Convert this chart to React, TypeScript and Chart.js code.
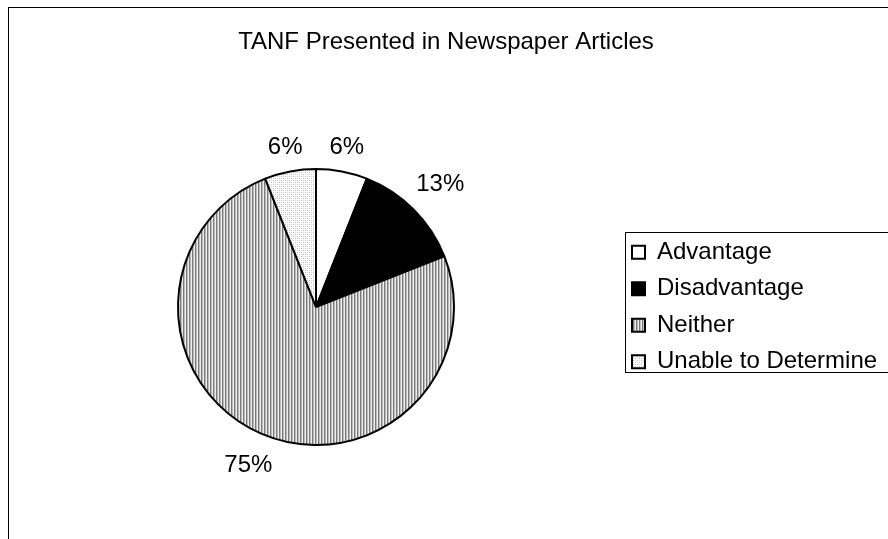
import React, { useEffect, useRef } from 'react';
import { Chart, registerables } from 'chart.js';

Chart.register(...registerables);

const categories = ['Advantage', 'Disadvantage', 'Neither', 'Unable to Determine'];
const percentages = [6, 13, 75, 6];
const titleText = 'TANF Presented in Newspaper Articles';
const FONT = '"Liberation Sans", Arial, sans-serif';

function makePattern(ctx: CanvasRenderingContext2D, size: number, draw: (c: CanvasRenderingContext2D) => void) {
  const tile = document.createElement('canvas');
  tile.width = size;
  tile.height = size;
  const tc = tile.getContext('2d')!;
  draw(tc);
  return ctx.createPattern(tile, 'repeat')!;
}

const percentLabels = {
  id: 'percentLabels',
  afterDatasetsDraw(chart: any) {
    const ctx = chart.ctx as CanvasRenderingContext2D;
    const meta = chart.getDatasetMeta(0);
    const values = chart.data.datasets[0].data as number[];
    const size = 24;
    ctx.save();
    ctx.font = `${size}px ${FONT}`;
    ctx.fillStyle = '#000';
    ctx.textAlign = 'center';
    ctx.textBaseline = 'middle';
    meta.data.forEach((arc: any, i: number) => {
      const p = arc.getProps(['x', 'y', 'startAngle', 'endAngle', 'outerRadius'], true);
      const mid = (p.startAngle + p.endAngle) / 2;
      const dx = Math.cos(mid);
      const dy = Math.sin(mid);
      const text = `${values[i]}%`;
      const w = ctx.measureText(text).width;
      const h = size * 0.8;
      const dist = p.outerRadius + 14 + Math.abs(dx) * w / 2 + Math.abs(dy) * h / 2;
      ctx.fillText(text, p.x + dx * dist, p.y + dy * dist + 2);
    });
    ctx.restore();
  },
};

const legendFrame = {
  id: 'legendFrame',
  afterDraw(chart: any) {
    const lg = chart.legend;
    if (!lg || !lg.legendHitBoxes || !lg.legendHitBoxes.length) return;
    const boxes = lg.legendHitBoxes;
    const first = boxes[0];
    const last = boxes[boxes.length - 1];
    const ctx = chart.ctx as CanvasRenderingContext2D;
    const left = Math.round(first.left - 7) + 0.5;
    const top = Math.round(first.top - 8) + 0.5;
    const bottom = Math.round(last.top + last.height - 2) + 0.5;
    const right = chart.width + 20;
    ctx.save();
    ctx.strokeStyle = '#000';
    ctx.lineWidth = 1;
    ctx.strokeRect(left, top, right - left, bottom - top);
    ctx.restore();
  },
};

export default function App() {
  const canvasRef = useRef<HTMLCanvasElement>(null);

  useEffect(() => {
    document.documentElement.style.overflow = 'hidden';
    document.body.style.overflow = 'hidden';
    const canvas = canvasRef.current!;
    const ctx = canvas.getContext('2d')!;

    const stripes = makePattern(ctx, 3, (c) => {
      c.fillStyle = '#7a7a7a';
      c.fillRect(0, 0, 1, 3);
      c.fillStyle = '#bdbdbd';
      c.fillRect(1, 0, 1, 3);
      c.fillStyle = '#ececec';
      c.fillRect(2, 0, 1, 3);
    });
    const dots = makePattern(ctx, 4, (c) => {
      c.fillStyle = '#ffffff';
      c.fillRect(0, 0, 4, 4);
      c.fillStyle = '#b8b8b8';
      c.fillRect(0, 0, 1, 1);
      c.fillRect(2, 2, 1, 1);
      c.fillStyle = '#dadada';
      c.fillRect(2, 0, 1, 1);
      c.fillRect(0, 2, 1, 1);
    });

    const chart = new Chart(canvas, {
      type: 'pie',
      data: {
        labels: categories,
        datasets: [
          {
            data: percentages,
            backgroundColor: ['#ffffff', '#000000', stripes, dots] as any,
            borderColor: '#000000',
            borderWidth: 2,
            radius: 138,
          } as any,
        ],
      },
      options: {
        animation: false,
        responsive: false,
        maintainAspectRatio: false,
        events: [],
        layout: { padding: { left: 3.5, right: 19.5, top: 9.6, bottom: 20.4 } },
        plugins: {
          title: {
            display: true,
            text: titleText,
            color: '#000',
            font: { family: FONT, size: 24, weight: 'normal' },
            padding: { top: 10, bottom: 10 },
          },
          legend: {
            display: true,
            position: 'right',
            fullSize: false,
            maxWidth: 260,
            labels: {
              color: '#000',
              font: { family: FONT, size: 24 },
              boxWidth: 13,
              boxHeight: 13,
              padding: 12.5,
            },
          },
          tooltip: { enabled: false },
        },
      } as any,
      plugins: [percentLabels, legendFrame],
    });
    return () => chart.destroy();
  }, []);

  return (
    <div
      style={{
        position: 'fixed',
        left: 8,
        top: 7,
        width: 1000,
        height: 700,
        borderTop: '1px solid #000',
        borderLeft: '1px solid #000',
        background: '#fff',
      }}
    >
      <canvas ref={canvasRef} width={890} height={560} style={{ display: 'block', width: 890, height: 560 }} />
    </div>
  );
}
